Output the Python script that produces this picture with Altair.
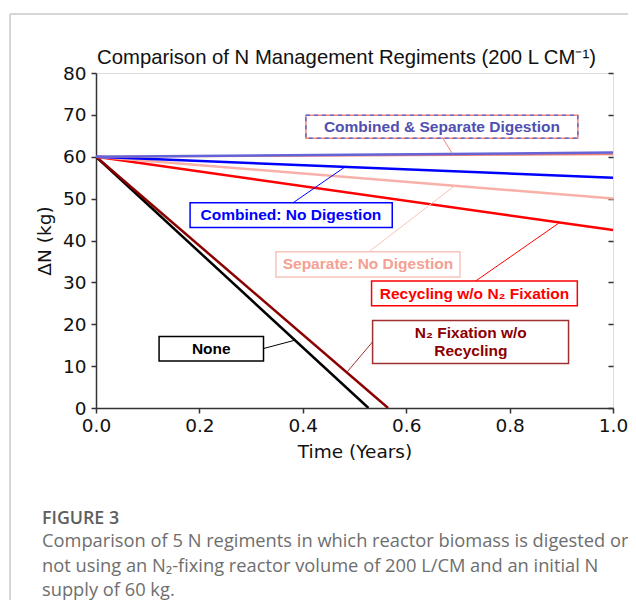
import altair as alt
import pandas as pd

# ---------------- data ----------------
series_names = ["None", "N₂ Fixation w/o Recycling", "Recycling w/o N₂ Fixation",
                "Separate: No Digestion", "Combined: No Digestion",
                "Separate Digestion", "Combined Digestion"]
series_colors = ["#000000", "#8b0000", "#ff0000", "#f8b0a8", "#0000ff", "#f08070", "#6464d8"]
series_widths = [2.5, 2.5, 2.5, 2.5, 2.5, 2.0, 2.5]
series_time = [[0.0, 0.527], [0.0, 0.565], [0.0, 1.0], [0.0, 1.0], [0.0, 1.0], [0.0, 1.0], [0.0, 1.0]]
series_n = [[60, 0], [60, 0], [60, 42.5], [60, 50.0], [60, 55.0], [60, 60.6], [60, 61.0]]

# annotation boxes (data units)
ann_text = ["Combined & Separate Digestion", "Combined: No Digestion", "Separate: No Digestion",
            "Recycling w/o N₂ Fixation", "N₂ Fixation w/o\nRecycling", "None"]
ann_color = ["#5050b0", "#0000ff", "#f4a092", "#ff0000", "#8b0000", "#000000"]
ann_border = ["#f08878", "#0000ff", "#f8c4bc", "#ff0000", "#a03030", "#000000"]
ann_x = [0.669, 0.377, 0.526, 0.732, 0.725, 0.223]
ann_y = [67.15, 46.0, 34.3, 27.3, 17.9, 14.2]
box_x1 = [0.406, 0.182, 0.348, 0.533, 0.535, 0.122]
box_x2 = [0.932, 0.573, 0.704, 0.931, 0.914, 0.324]
box_y1 = [64.4, 43.1, 31.3, 24.4, 10.6, 11.2]
box_y2 = [69.9, 49.0, 37.3, 30.3, 20.9, 17.1]
lead_x1 = [0.671, 0.381, 0.528, 0.734, 0.535, 0.324]
lead_y1 = [64.4, 49.0, 37.3, 30.3, 15.8, 14.2]
lead_x2 = [0.689, 0.482, 0.694, 0.897, 0.485, 0.385]
lead_y2 = [60.8, 57.6, 53.1, 44.3, 8.5, 16.2]

x_ticks = [0.0, 0.2, 0.4, 0.6, 0.8, 1.0]
y_ticks = [0, 10, 20, 30, 40, 50, 60, 70, 80]

title_text = "Comparison of N Management Regiments (200 L CM⁻¹)"
caption_head = "FIGURE 3"
caption_lines = ["Comparison of 5 N regiments in which reactor biomass is digested or",
                 "not using an N₂-fixing reactor volume of 200 L/CM and an initial N",
                 "supply of 60 kg."]

W, H = 517, 335
AX = "#333333"

xs = alt.Scale(domain=[0, 1], nice=False)
ys = alt.Scale(domain=[0, 80], nice=False)

x_axis = alt.Axis(values=x_ticks, format=".1f", title="Time (Years)", grid=False,
                  labelFont="DejaVu Sans", labelFontSize=18.5, labelColor="#111",
                  labelFlush=False, labelOverlap=False,
                  titleFont="DejaVu Sans", titleFontSize=18.5, titleFontWeight="normal",
                  titleColor="#111", tickSize=5, tickColor=AX, domainColor=AX,
                  tickWidth=1.5, domainWidth=1.5, labelPadding=3, titlePadding=8)
y_axis = alt.Axis(values=y_ticks, title="ΔN (kg)", grid=False,
                  labelFont="DejaVu Sans", labelFontSize=18.5, labelColor="#111",
                  labelFlush=False, labelOverlap=False,
                  titleFont="DejaVu Sans", titleFontSize=18.5, titleFontWeight="normal",
                  titleColor="#111", tickSize=5, tickColor=AX, domainColor=AX,
                  tickWidth=1.5, domainWidth=1.5, labelPadding=5, titlePadding=8)
y_axis_r = alt.Axis(values=y_ticks, orient="right", labels=False, title=None, grid=False,
                    domain=False, tickSize=5, offset=-5, tickColor=AX, tickWidth=1.5)

layers = []

rows = []
for name, ts, ns in zip(series_names, series_time, series_n):
    for t, n in zip(ts, ns):
        rows.append({"series": name, "t": t, "n": n})
df_lines = pd.DataFrame(rows)

axes_layer = alt.Chart(df_lines).mark_point(opacity=0).encode(
    x=alt.X("t:Q", scale=xs, axis=x_axis),
    y=alt.Y("n:Q", scale=ys, axis=y_axis),
)
right_layer = alt.Chart(df_lines).mark_point(opacity=0).encode(
    x=alt.X("t:Q", scale=xs, axis=None),
    y=alt.Y("n:Q", scale=ys, axis=y_axis_r),
)
layers += [axes_layer, right_layer]

for name, col, w in zip(series_names, series_colors, series_widths):
    sub = df_lines[df_lines["series"] == name]
    layers.append(alt.Chart(sub).mark_line(color=col, strokeWidth=w, clip=True).encode(
        x=alt.X("t:Q", scale=xs, axis=None),
        y=alt.Y("n:Q", scale=ys, axis=None),
    ))

df_ann = pd.DataFrame({
    "text": ann_text, "color": ann_color, "border": ann_border,
    "x": ann_x, "y": ann_y, "bx1": box_x1, "bx2": box_x2, "by1": box_y1, "by2": box_y2,
    "lx1": lead_x1, "ly1": lead_y1, "lx2": lead_x2, "ly2": lead_y2,
})

leaders = alt.Chart(df_ann).mark_rule(strokeWidth=1).encode(
    x=alt.X("lx1:Q", scale=xs, axis=None), x2="lx2:Q",
    y=alt.Y("ly1:Q", scale=ys, axis=None), y2="ly2:Q",
    color=alt.Color("border:N", scale=None),
)
boxes = alt.Chart(df_ann).mark_rect(fill="white", strokeWidth=1.5).encode(
    x=alt.X("bx1:Q", scale=xs, axis=None), x2="bx2:Q",
    y=alt.Y("by1:Q", scale=ys, axis=None), y2="by2:Q",
    stroke=alt.Stroke("border:N", scale=None),
)
dash_box = alt.Chart(df_ann.iloc[[0]]).mark_rect(fillOpacity=0, stroke="#6464d8",
                                                 strokeWidth=1.5, strokeDash=[4, 4]).encode(
    x=alt.X("bx1:Q", scale=xs, axis=None), x2="bx2:Q",
    y=alt.Y("by1:Q", scale=ys, axis=None), y2="by2:Q",
)
texts = alt.Chart(df_ann).mark_text(font="Liberation Sans", fontWeight="bold", fontSize=15.5,
                                    lineBreak="\n", lineHeight=18, baseline="middle").encode(
    x=alt.X("x:Q", scale=xs, axis=None),
    y=alt.Y("y:Q", scale=ys, axis=None),
    text="text:N",
    color=alt.Color("color:N", scale=None),
)
layers += [leaders, boxes, dash_box, texts]

# figure frame and caption (decoration around the chart)
one = pd.DataFrame({"k": [0]})
frame = alt.Chart(one).mark_rule(color="#c8c8c8", strokeWidth=1.5).encode(
    x=alt.value(-86), y=alt.value(-59), y2=alt.value(H + 200))
frame_top = alt.Chart(one).mark_rule(color="#c8c8c8", strokeWidth=1.5).encode(
    x=alt.value(-86), x2=alt.value(W + 40), y=alt.value(-59))
title = alt.Chart(one).mark_text(
    font="Liberation Sans", fontSize=20.3, color="#111", align="center", baseline="alphabetic",
    text=title_text
).encode(x=alt.value(W / 2 - 8), y=alt.value(-9))
head = alt.Chart(one).mark_text(
    font="Open Sans", fontSize=17.8, fontWeight=600, color="#5e5e5e", align="left", baseline="alphabetic",
    text=caption_head
).encode(x=alt.value(-54), y=alt.value(451))
layers += [frame, frame_top, title, head]
for i, line in enumerate(caption_lines):
    layers.append(alt.Chart(one).mark_text(
        font="Open Sans", fontSize=18.3, color="#6e6e6e", align="left", baseline="alphabetic", text=line
    ).encode(x=alt.value(-54), y=alt.value(474 + 24.5 * i)))

chart = alt.layer(*layers).resolve_axis(x="independent", y="independent").properties(
    width=W, height=H,
    autosize=alt.AutoSizeParams(type="none"),
    padding={"left": 88, "top": 65, "right": 15, "bottom": 192},
).configure_view(stroke=AX, strokeWidth=1.5).configure(background="white")

chart.save("out.html", embed_options={"renderer": "svg", "actions": False})
